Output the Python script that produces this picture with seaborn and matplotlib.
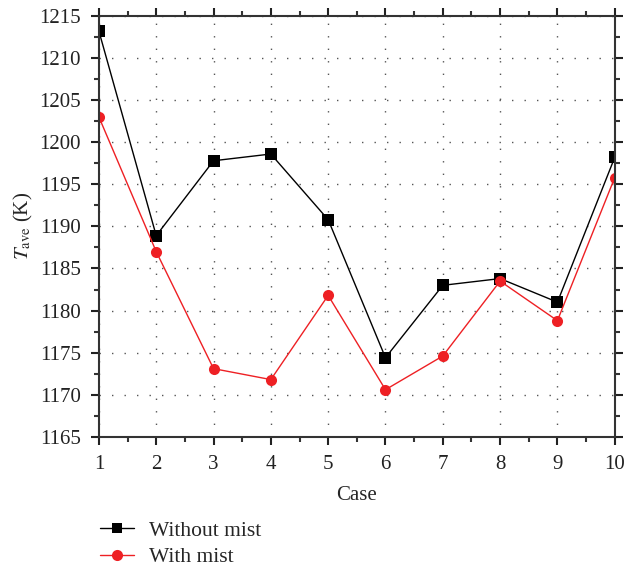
import matplotlib
matplotlib.use("Agg")
import matplotlib.pyplot as plt
import pandas as pd
import seaborn as sns
from matplotlib.lines import Line2D
from matplotlib.ticker import MultipleLocator

cases = [1, 2, 3, 4, 5, 6, 7, 8, 9, 10]
without_mist = [1213.2, 1188.9, 1197.8, 1198.6, 1190.8, 1174.4, 1183.0, 1183.8, 1181.0, 1198.2]
with_mist = [1203.0, 1187.0, 1173.1, 1171.8, 1181.8, 1170.6, 1174.6, 1183.5, 1178.8, 1195.8]

df = pd.DataFrame({
    "Case": cases * 2,
    "T": without_mist + with_mist,
    "series": ["Without mist"] * len(cases) + ["With mist"] * len(cases),
})

sns.set_theme(style="ticks")
plt.rcParams["font.family"] = ["Liberation Serif", "DejaVu Serif"]
plt.rcParams["mathtext.fontset"] = "stix"

fig = plt.figure(figsize=(6.26, 5.71), dpi=100)
ax = fig.add_axes([0.158, 0.235, 0.824, 0.737])

colors = {"Without mist": "black", "With mist": "#ee2024"}
sns.lineplot(
    data=df, x="Case", y="T", hue="series", style="series",
    palette=colors,
    markers={"Without mist": "s", "With mist": "o"},
    dashes=False, linewidth=1.0, markersize=8, markeredgewidth=0,
    ax=ax, legend=False,
)

ax.set_xlim(1, 10)
ax.set_ylim(1165, 1215)
ax.xaxis.set_major_locator(MultipleLocator(1))
ax.xaxis.set_minor_locator(MultipleLocator(0.5))
ax.yaxis.set_major_locator(MultipleLocator(5))
ax.yaxis.set_minor_locator(MultipleLocator(2.5))
ax.grid(True, which="major", linestyle=(0, (1, 8)), color="#555555", linewidth=1.0)
for s in ax.spines.values():
    s.set_linewidth(1.5)
    s.set_color("#333333")
ax.tick_params(which="both", direction="out", top=True, right=True,
               labeltop=False, labelright=False, color="#333333", width=1.5)
ax.tick_params(which="major", length=6, labelsize=15, pad=7, colors="#222222")
ax.tick_params(which="minor", length=3.5)
for lab in ax.get_xticklabels() + ax.get_yticklabels():
    lab.set_color("#222222")

ax.set_xlabel("Case", fontsize=15, labelpad=9)
ax.set_ylabel(r"$T_{\rm ave}$ (K)", fontsize=15, labelpad=3)

handles = [
    Line2D([], [], color=colors["Without mist"], marker="s", markersize=7, linewidth=1.0, markeredgewidth=0),
    Line2D([], [], color=colors["With mist"], marker="o", markersize=8, linewidth=1.0, markeredgewidth=0),
]
fig.legend(handles, ["Without mist", "With mist"], loc="upper left",
           bbox_to_anchor=(0.16, 0.088), frameon=False, fontsize=15.5,
           handlelength=1.55, labelspacing=0.3, handletextpad=0.7,
           borderpad=0, borderaxespad=0)

fig.savefig("out.png", dpi=100)
